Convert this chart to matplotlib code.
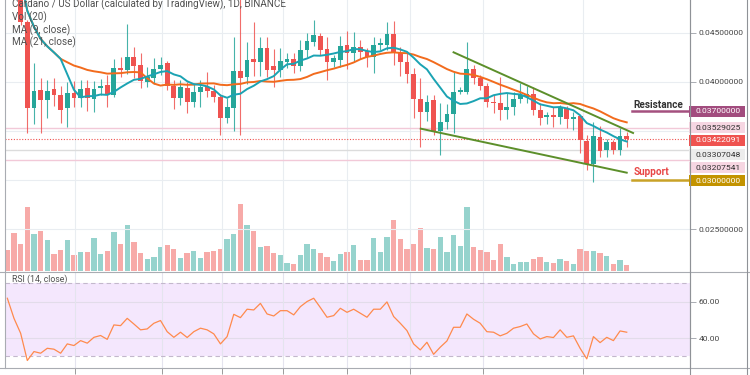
import numpy as np
import pandas as pd
import matplotlib
matplotlib.use("Agg")
import matplotlib.pyplot as plt
import matplotlib.transforms as mtransforms
from matplotlib.patches import Rectangle
from matplotlib.lines import Line2D

plt.rcParams['font.family'] = ['Roboto', 'DejaVu Sans']

# ---------------- data ----------------
opens = [0.0545, 0.0532, 0.0526, 0.04615, 0.03731, 0.03918, 0.03816, 0.03925, 0.03867, 0.03731,
         0.03891, 0.03833, 0.03935, 0.03823, 0.03935, 0.03969, 0.03867, 0.04139, 0.04122, 0.04252,
         0.04173, 0.04003, 0.04037, 0.04129, 0.04197, 0.03959, 0.03833, 0.03935, 0.03799, 0.03901,
         0.03946, 0.03912, 0.03850, 0.03629, 0.03731, 0.04116, 0.04054, 0.04231, 0.04207, 0.04350,
         0.04167, 0.04122, 0.04207, 0.04231, 0.04167, 0.04326, 0.04411, 0.04473, 0.04333, 0.04207,
         0.04224, 0.04377, 0.04299, 0.04360, 0.04316, 0.04258, 0.04377, 0.04377, 0.04486, 0.04299,
         0.04207, 0.04081, 0.03823, 0.03697, 0.03816, 0.03504, 0.03589, 0.03670, 0.03901, 0.03901,
         0.04129, 0.04037, 0.03959, 0.03799, 0.03782, 0.03714, 0.03748, 0.03823, 0.03850, 0.03874,
         0.03714, 0.03640, 0.03663, 0.03640, 0.03731, 0.03623, 0.03653, 0.03402, 0.03164, 0.03442,
         0.03306, 0.03391, 0.03306, 0.03449]
highs = [0.0552, 0.0538, 0.0530, 0.0463, 0.04190, 0.04037, 0.04020, 0.04037, 0.03959, 0.04003,
         0.04014, 0.04020, 0.04020, 0.04014, 0.04027, 0.04071, 0.04231, 0.04252, 0.04592, 0.04360,
         0.04292, 0.04156, 0.04241, 0.04258, 0.04218, 0.04020, 0.04020, 0.04003, 0.03986, 0.04020,
         0.04105, 0.03969, 0.03880, 0.03833, 0.04456, 0.04900, 0.04411, 0.04615, 0.04462, 0.04456,
         0.04333, 0.04350, 0.04299, 0.04299, 0.04428, 0.04496, 0.04632, 0.04496, 0.04456, 0.04275,
         0.04469, 0.04524, 0.04513, 0.04428, 0.04343, 0.04462, 0.04450, 0.04615, 0.04626, 0.04360,
         0.04292, 0.04139, 0.04037, 0.03867, 0.03867, 0.03782, 0.03776, 0.04105, 0.03950, 0.04411,
         0.04173, 0.04071, 0.03993, 0.03867, 0.04048, 0.03884, 0.03901, 0.03986, 0.03959, 0.03946,
         0.03782, 0.03697, 0.03742, 0.03765, 0.03755, 0.03697, 0.03653, 0.03459, 0.03595, 0.03551,
         0.03415, 0.03408, 0.03527, 0.03493]
lows = [0.0525, 0.0518, 0.0458, 0.03476, 0.03572, 0.03483, 0.03629, 0.03755, 0.03578, 0.03544,
        0.03742, 0.03748, 0.03708, 0.03697, 0.03867, 0.03748, 0.03850, 0.04050, 0.04080, 0.04037,
        0.03935, 0.03950, 0.03980, 0.04071, 0.03920, 0.03721, 0.03770, 0.03687, 0.03748, 0.03742,
        0.03850, 0.03800, 0.03459, 0.03580, 0.03504, 0.03459, 0.03980, 0.04061, 0.04061, 0.04050,
        0.03952, 0.04050, 0.04140, 0.04088, 0.04110, 0.04260, 0.04370, 0.04280, 0.04020, 0.04150,
        0.04150, 0.04129, 0.04200, 0.04230, 0.04156, 0.04088, 0.04330, 0.04330, 0.04173, 0.04061,
        0.03993, 0.03629, 0.03340, 0.03606, 0.03459, 0.03255, 0.03520, 0.03483, 0.03880, 0.03880,
        0.03980, 0.03920, 0.03750, 0.03687, 0.03612, 0.03620, 0.03663, 0.03782, 0.03782, 0.03663,
        0.03561, 0.03572, 0.03544, 0.03570, 0.03527, 0.03510, 0.03279, 0.03102, 0.02983, 0.03238,
        0.03238, 0.03266, 0.03255, 0.03340]
closes = [0.0530, 0.0526, 0.04615, 0.03731, 0.03912, 0.03816, 0.03912, 0.03867, 0.03714, 0.03884,
          0.03833, 0.03925, 0.03833, 0.03925, 0.03959, 0.03878, 0.04139, 0.04122, 0.04252, 0.04167,
          0.04014, 0.04048, 0.04129, 0.04173, 0.03959, 0.03833, 0.03946, 0.03799, 0.03901, 0.03946,
          0.03912, 0.03844, 0.03629, 0.03741, 0.04116, 0.04037, 0.04224, 0.04207, 0.04343, 0.04122,
          0.04122, 0.04218, 0.04235, 0.04167, 0.04326, 0.04418, 0.04479, 0.04326, 0.04207, 0.04241,
          0.04367, 0.04299, 0.04360, 0.04309, 0.04258, 0.04377, 0.04394, 0.04486, 0.04299, 0.04207,
          0.04081, 0.03823, 0.03697, 0.03799, 0.03504, 0.03589, 0.03670, 0.03901, 0.03918, 0.04129,
          0.04037, 0.03959, 0.03799, 0.03782, 0.03714, 0.03748, 0.03823, 0.03867, 0.03877, 0.03714,
          0.03629, 0.03663, 0.03640, 0.03742, 0.03623, 0.03646, 0.03408, 0.03164, 0.03449, 0.03300,
          0.03391, 0.03306, 0.03449, 0.03422]
volumes = [21, 38, 27, 64, 37, 40, 31, 17, 21, 31, 16, 19, 19, 33, 17, 20, 39, 27, 46, 29,
           18, 12, 14, 24, 26, 22, 13, 18, 20, 13, 19, 20, 22, 32, 37, 67, 46, 40, 24, 25,
           18, 16, 8, 7, 16, 27, 22, 18, 14, 10, 17, 19, 26, 11, 11, 33, 19, 34, 51, 32,
           22, 27, 43, 23, 22, 34, 19, 36, 25, 64, 24, 21, 19, 11, 27, 14, 7, 9, 9, 12,
           14, 9, 8, 12, 10, 7, 22, 20, 20, 18, 15, 7, 11, 6]
rsi = [61.8, 50.8, 42.6, 27.7, 32.6, 31.7, 34.4, 33.9, 31.7, 36.8,
       35.9, 38.6, 37.2, 40.4, 41.4, 39.3, 47.2, 46.8, 50.8, 47.7,
       44.5, 45.0, 48.1, 49.6, 43.5, 40.4, 43.2, 40.3, 43.5, 45.4,
       44.5, 42.3, 36.8, 40.8, 53.0, 51.2, 55.8, 55.4, 59.0, 53.2,
       52.1, 55.0, 55.0, 52.7, 57.2, 60.0, 61.8, 56.7, 51.4, 52.3,
       56.3, 54.1, 55.8, 53.6, 51.4, 55.8, 55.8, 59.8, 51.8, 48.1,
       44.1, 36.8, 33.5, 37.7, 31.1, 35.0, 38.4, 45.9, 45.9, 53.2,
       50.3, 48.1, 43.5, 43.2, 41.2, 42.6, 45.4, 46.3, 47.7, 42.3,
       39.5, 40.8, 40.3, 44.5, 40.4, 41.2, 34.4, 28.6, 40.8, 37.5,
       40.4, 38.6, 43.9, 43.2]
date_ticks = [10.1, 23.2, 32.3, 41.4, 51.0, 60.5, 71.4, 86.4]
resistance = 0.037
support = 0.030
marked_levels = [0.03529025, 0.03307048, 0.03207541]
last_price = 0.03422091
upper_trend_x = [67.0, 93.95]
upper_trend_y = [0.04303, 0.03480]
lower_trend_x = [62.07, 93.0]
lower_trend_y = [0.03524, 0.03075]
price_grid = [0.025, 0.030, 0.035, 0.040, 0.045]
price_ticks = [0.025, 0.040, 0.045]
rsi_ticks = [40, 60]

# ---------------- styling ----------------
UP, DOWN = '#26a69a', '#ef5350'
UPV, DOWNV = '#96d3cd', '#f7aaa8'
GRID = '#e9edf1'
AXC = '#a9acb2'
TXT = '#505050'
LBL = 6.1

W, H = 750, 375
fig = plt.figure(figsize=(W / 100, H / 100), dpi=100)
fig.patch.set_facecolor('white')

def fx(px):
    return px / W

def fy(py):
    return 1 - py / H

x = np.arange(len(closes))
xl = (-0.35, 102.5)

axv = fig.add_axes([fx(5), fy(271), fx(685), 271 / H])
ax = fig.add_axes([fx(5), fy(271), fx(685), 271 / H], sharex=axv)
axr = fig.add_axes([fx(5), fy(368), fx(685), (368 - 272.7) / H])
ax.patch.set_visible(False)
axv.set_zorder(0)
ax.set_zorder(1)

# volume
vcol = [UPV if c >= o else DOWNV for o, c in zip(opens, closes)]
axv.bar(x, volumes, width=0.8, color=vcol, linewidth=0)
axv.set_ylim(0, 270)
axv.axis('off')

# price panel
ylo, yhi = 0.020722, 0.048364
ax.set_xlim(*xl)
ax.set_ylim(ylo, yhi)
for g in price_grid:
    ax.axhline(g, color=GRID, lw=0.8, zorder=0)
for t in date_ticks:
    ax.axvline(t, color=GRID, lw=0.8, zorder=0)

for lvl, col in zip(marked_levels, ['#f2c9d8', '#dcdcdc', '#f2c9d8']):
    ax.axhline(lvl, color=col, lw=1.0, zorder=1)
ax.axhline(last_price, color=DOWN, lw=0.8, ls=(0, (1, 1.5)), zorder=1)

for i in x:
    o, h, l, c = opens[i], highs[i], lows[i], closes[i]
    col = UP if c >= o else DOWN
    ax.vlines(i, l, h, color=col, lw=0.8, alpha=0.85, zorder=3)
    body = max(abs(c - o), 0.00006)
    ax.bar(i, body, bottom=min(o, c), width=0.72, color=col, linewidth=0, zorder=4)

s = pd.Series(closes)
ma9 = s.rolling(9, min_periods=1).mean()
ma21 = s.rolling(21, min_periods=1).mean()
ax.plot(x, ma21, color='#f26b1d', lw=1.4, zorder=5)
ax.plot(x, ma9, color='#1ba3b3', lw=1.4, zorder=5)

ax.plot(upper_trend_x, upper_trend_y, color='#5c8f2a', lw=1.4, zorder=6)
ax.plot(lower_trend_x, lower_trend_y, color='#5c8f2a', lw=1.4, zorder=6)

# resistance / support marks
rx0, rx1 = (632 - 5) / 685, (688 - 5) / 685
ax.axhline(resistance, xmin=rx0, xmax=rx1, color='#a4507f', lw=1.8, zorder=6)
ax.axhline(support, xmin=rx0, xmax=rx1, color='#c9a227', lw=1.8, zorder=6)
btr = mtransforms.blended_transform_factory(ax.transAxes, ax.transData)
ax.annotate('Resistance', xy=(rx0 + 1 / 685, resistance), xycoords=btr,
            xytext=(0, 6.5), textcoords='offset pixels', ha='left', va='center',
            fontsize=7.2, fontweight='bold', color='#333333', zorder=7)
ax.annotate('Support', xy=(rx0 + 2 / 685, support), xycoords=btr,
            xytext=(0, 8), textcoords='offset pixels', ha='left', va='center',
            fontsize=7.2, fontweight='bold', color='#e84646', zorder=7)

for sp in ['top', 'bottom']:
    ax.spines[sp].set_visible(False)
ax.spines['left'].set_color(AXC)
ax.spines['right'].set_color(AXC)
ax.spines['left'].set_linewidth(0.8)
ax.spines['right'].set_linewidth(0.8)
ax.yaxis.tick_right()
ax.set_yticks(price_ticks)
ax.set_yticklabels([f'{v:.8f}' for v in price_ticks])
ax.tick_params(axis='y', length=4, width=0.7, color=AXC, labelsize=LBL, labelcolor='#454545', pad=2)
ax.tick_params(axis='x', length=0, labelbottom=False)
ax.set_xticks([])

# price tags on the right axis
data_per_px = (yhi - ylo) / 271.0

def tag(price, text, fc, tc, shift_px=0.0):
    trans = mtransforms.offset_copy(btr, fig=fig, x=0, y=-shift_px, units='dots')
    hh = 11 * data_per_px
    ax.add_patch(Rectangle((1.0 - 1 / 685, price - hh / 2), 56 / 685, hh, transform=trans,
                           facecolor=fc, edgecolor='none', clip_on=False, zorder=8))
    ax.text(1.0 + 5.5 / 685, price, text, transform=trans, ha='left', va='center',
            fontsize=LBL, color=tc, clip_on=False, zorder=9)

tag(resistance, f'{resistance:.8f}', '#a24c7e', 'white', 0)
tag(marked_levels[0], f'{marked_levels[0]:.8f}', '#f6d6e2', '#303030', -0.6)
tag(last_price, f'{last_price:.8f}', DOWN, 'white', 1.4)
tag(marked_levels[1], f'{marked_levels[1]:.8f}', '#ececec', '#303030', 4.6)
tag(marked_levels[2], f'{marked_levels[2]:.8f}', '#f6d6e2', '#303030', 8.1)
tag(support, f'{support:.8f}', '#c39300', 'white', 0.5)

# legend texts
FS = 7.1
fig.text(fx(12), fy(4.5), 'Cardano / US Dollar (calculated by TradingView), 1D, BINANCE',
         ha='left', va='center', fontsize=FS, color=TXT, zorder=10)
fig.text(fx(12), fy(17), 'Vol (20)', ha='left', va='center', fontsize=FS, color=TXT, zorder=10)
fig.text(fx(12), fy(30), 'MA (9, close)', ha='left', va='center', fontsize=FS, color=TXT, zorder=10)
fig.text(fx(12), fy(42.5), 'MA (21, close)', ha='left', va='center', fontsize=FS, color=TXT, zorder=10)

# RSI panel
axr.set_xlim(*xl)
axr.set_ylim(23.6, 75.8)
axr.axhspan(30, 70, color='#f4e7fd', lw=0, zorder=0)
for g in rsi_ticks:
    axr.axhline(g, color='#e2dcea', lw=0.8, zorder=1)
for t in date_ticks:
    axr.axvline(t, color='#e4e4ee', lw=0.8, zorder=1)
axr.axhline(70, color='#c3b8cc', lw=0.8, ls=(0, (4, 3)), zorder=1)
axr.axhline(30, color='#c3b8cc', lw=0.8, ls=(0, (4, 3)), zorder=1)
axr.plot(x, rsi, color='#ff8a4d', lw=0.9, zorder=3)
for sp in ['top', 'bottom']:
    axr.spines[sp].set_visible(False)
axr.spines['left'].set_color(AXC)
axr.spines['right'].set_color(AXC)
axr.spines['left'].set_linewidth(0.8)
axr.spines['right'].set_linewidth(0.8)
axr.yaxis.tick_right()
axr.set_yticks(rsi_ticks)
axr.set_yticklabels([f'{v:.2f}' for v in rsi_ticks])
axr.tick_params(axis='y', length=4, width=0.7, color=AXC, labelsize=LBL, labelcolor='#454545', pad=2)
axr.set_xticks(date_ticks)
axr.set_xticklabels([])
axr.tick_params(axis='x', length=4, width=0.7, color='#9a9a9a', direction='out')
axr.text(0.01, 0.935, 'RSI (14, close)', transform=axr.transAxes, ha='left', va='center',
         fontsize=6.3, color=TXT)

# panel separators and outer axis lines
fig.add_artist(Line2D([0, 1], [fy(271.8), fy(271.8)], transform=fig.transFigure, color=AXC, lw=0.8))
fig.add_artist(Line2D([0, 1], [fy(368), fy(368)], transform=fig.transFigure, color=AXC, lw=0.8))
fig.add_artist(Line2D([fx(690), fx(690)], [0, 1], transform=fig.transFigure, color='#8f9297', lw=0.8))
fig.add_artist(Line2D([fx(747), fx(747)], [0, 1], transform=fig.transFigure, color='#8f9297', lw=0.8))

fig.savefig('out.png', dpi=100)
